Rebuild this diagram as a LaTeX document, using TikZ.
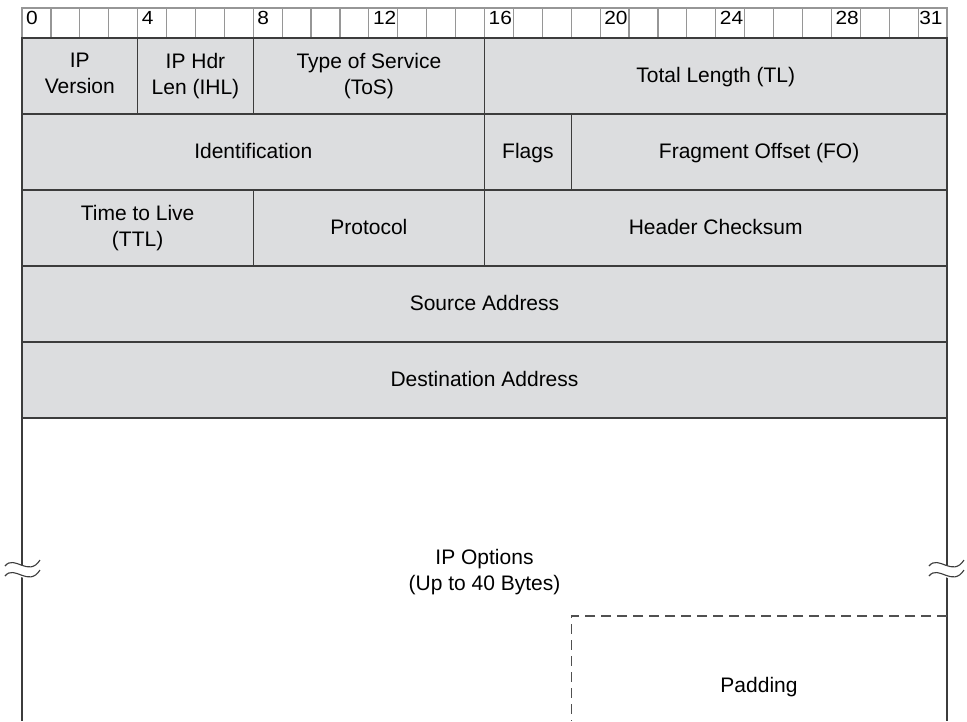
\documentclass[tikz,border=0pt]{standalone}
\usepackage{fontspec}
\setmainfont{Liberation Sans}
\newfontfamily\rulerfont{Liberation Sans}[FakeStretch=1.1]
\newcommand\tstrut{\rule[-4.5pt]{0pt}{21pt}}
\definecolor{fieldfill}{RGB}{220,221,223}
\definecolor{edge}{RGB}{60,60,60}
\definecolor{rulegray}{RGB}{150,150,150}
\definecolor{dashgray}{RGB}{80,80,80}
\begin{document}
\begin{tikzpicture}[x=1pt,y=-1pt,
  txt/.style={inner sep=0pt, align=center, font=\fontsize{21}{26}\selectfont,
    execute at begin node=\tstrut, execute at end node=\tstrut},
  field/.style={txt, draw=edge, line width=1.2pt, fill=fieldfill, minimum height=76pt,
    outer sep=0pt, anchor=north west},
  bitcell/.style={draw=rulegray, line width=1.2pt, minimum width=28.90625pt,
    minimum height=30pt, inner sep=0pt, outer sep=0pt, anchor=north west},
  bitnum/.style={anchor=base west, inner sep=0pt, font=\rulerfont\fontsize{19}{19}\selectfont},
  wall/.style={draw=edge, line width=1.2pt},
  padline/.style={draw=dashgray, line width=1.2pt, dash pattern=on 10pt off 6pt},
  breakmark/.pic={
    \fill[white] (-17.5,-2) .. controls (-8,-14) and (6,10) .. (17.5,-8)
      -- (17.5,4) .. controls (6,22) and (-8,-2) .. (-17.5,10) -- cycle;
    \draw[edge, line width=1.1pt] (-17.5,-2) .. controls (-8,-14) and (6,10) .. (17.5,-8);
    \draw[edge, line width=1.1pt] (-17.5,8) .. controls (-8,-4) and (6,20) .. (17.5,2);
  }]
\useasboundingbox (0,0) rectangle (967,721);

% bit ruler
\foreach \i in {0,...,31}
  \node[bitcell] (b\i) at ({22+\i*28.90625},8) {};
\foreach \i in {0,4,...,28}
  \node[bitnum] (n\i) at ([xshift=4pt,yshift=-16pt]b\i.north west) {\i};
\node[bitnum] (n31) at ([xshift=1pt,yshift=-16pt]b31.north west) {31};

% header words
\node[field, minimum width={4*28.90625pt}] (ver) at (22,38) {IP\\Version};
\node[field, minimum width={4*28.90625pt}] (ihl) at (ver.north east) {IP Hdr\\Len (IHL)};
\node[field, minimum width={8*28.90625pt}] (tos) at (ihl.north east) {Type of Service\\(ToS)};
\node[field, minimum width={16*28.90625pt}] (tl) at (tos.north east) {Total Length (TL)};

\node[field, minimum width={16*28.90625pt}] (id) at (ver.south west) {Identification};
\node[field, minimum width={3*28.90625pt}] (flags) at (id.north east) {Flags};
\node[field, minimum width={13*28.90625pt}] (fo) at (flags.north east) {Fragment Offset (FO)};

\node[field, minimum width={8*28.90625pt}] (ttl) at (id.south west) {Time to Live\\(TTL)};
\node[field, minimum width={8*28.90625pt}] (proto) at (ttl.north east) {Protocol};
\node[field, minimum width={16*28.90625pt}] (cks) at (proto.north east) {Header Checksum};

\node[field, minimum width={32*28.90625pt}] (src) at (ttl.south west) {Source Address};
\node[field, minimum width={32*28.90625pt}] (dst) at (src.south west) {Destination Address};

% options area, open at the bottom
\coordinate (optbl) at (22,721);
\coordinate (optbr) at (947,721);
\draw[wall] (dst.south west) -- (optbl);
\draw[wall] (dst.south east) -- (optbr);
\node[txt] (opt) at (484.5,572) {IP Options\\(Up to 40 Bytes)};

% padding
\coordinate (padbl) at (571.2,721);
\coordinate (padtl) at (571.2,616);
\coordinate (padtr) at (947,616);
\draw[padline] (padtr) -- (padtl) -- (padbl);
\node[txt] (pad) at (759,686.5) {Padding};

% break marks on both walls
\pic at (22.5,568) {breakmark};
\pic at (946.5,568) {breakmark};
\end{tikzpicture}
\end{document}
